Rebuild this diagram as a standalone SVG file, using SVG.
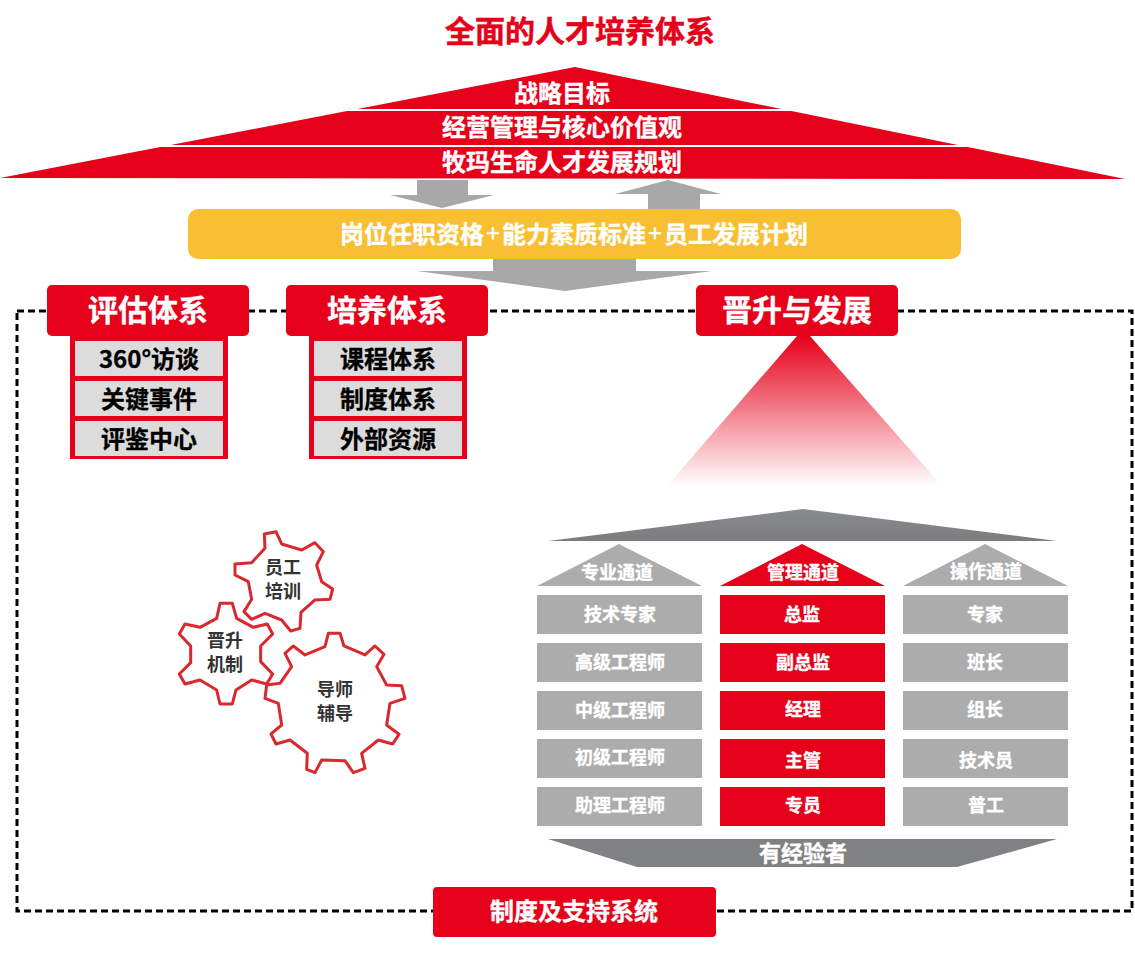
<svg xmlns="http://www.w3.org/2000/svg" width="1135" height="954" viewBox="0 0 1135 954">
<style>
text{font-family:"Noto Sans CJK SC","Microsoft YaHei","Liberation Sans",sans-serif;font-weight:700;text-anchor:middle;dominant-baseline:central}
.w{fill:#fff;stroke:#fff;stroke-width:.35}.k{fill:#000;stroke:#000;stroke-width:.3}.r{fill:#e60019}.g{fill:#acacac}.a{fill:#a7a8a7}
.t24{font-size:24px}.t30{font-size:30px}.t18{font-size:18px}
.gear{fill:#fff;stroke:#d9282e;stroke-width:9;stroke-linejoin:round}
.sub{fill:#dcdcdc}
.gt{font-size:18px;fill:#333}
.plus{font-family:"Liberation Sans",sans-serif;font-weight:400}
</style>
<defs>
<linearGradient id="fade" x1="0" y1="0" x2="0" y2="1"><stop offset="0" stop-color="#e60019"/><stop offset="1" stop-color="#e60019" stop-opacity="0"/></linearGradient>
<linearGradient id="roof" x1="0" y1="0" x2="0" y2="1"><stop offset="0" stop-color="#8a8b8c"/><stop offset="1" stop-color="#7b7c7e"/></linearGradient>
</defs>
<text id="title" x="580" y="29" style="font-size:30px;fill:#e60019;stroke:#e60019;stroke-width:.5">全面的人才培养体系</text>
<g id="connectors">
<path class="a" d="M417 180H468V195H494L442 208L390 195H417Z"/>
<path class="a" d="M648 209V194H615L668 180L721 194H700V209Z"/>
<path class="a" d="M493 259H636V271H712L565 291L417 271H493Z"/>
<rect x="17" y="311" width="1115" height="600" fill="none" stroke="#000" stroke-width="3" stroke-dasharray="7 4"/>
</g>
<g id="pyramid">
<polygon class="r" points="575,67 1125,179 0,178"/>
<path d="M340 110H795M155 146H975" stroke="#fff" stroke-width="2" fill="none"/>
<text class="w t24" x="562" y="91">战略目标</text>
<text class="w t24" x="562" y="125">经营管理与核心价值观</text>
<text class="w t24" x="562" y="160">牧玛生命人才发展规划</text>
</g>
<g id="standard">
<rect x="188" y="209" width="773" height="50" rx="10" fill="#f8bf33"/>
<text class="w t24" x="574" y="232">岗位任职资格<tspan class="plus" dx="2">+</tspan><tspan dx="2">能力素质标准</tspan><tspan class="plus" dx="2">+</tspan><tspan dx="2">员工发展计划</tspan></text>
</g>
<g id="assess">
<rect class="r" x="70" y="330" width="158" height="129"/>
<rect class="sub" x="75" y="341" width="148" height="35"/>
<rect class="sub" x="75" y="381" width="148" height="35"/>
<rect class="sub" x="75" y="421" width="148" height="35"/>
<rect class="r" x="47" y="285" width="202" height="51" rx="5"/>
<text class="w t30" x="148" y="308">评估体系</text>
<text class="k t24" x="149" y="357">360°访谈</text>
<text class="k t24" x="149" y="397">关键事件</text>
<text class="k t24" x="149" y="437">评鉴中心</text>
</g>
<g id="train">
<rect class="r" x="309" y="330" width="158" height="129"/>
<rect class="sub" x="314" y="341" width="148" height="35"/>
<rect class="sub" x="314" y="381" width="148" height="35"/>
<rect class="sub" x="314" y="421" width="148" height="35"/>
<rect class="r" x="286" y="285" width="202" height="51" rx="5"/>
<text class="w t30" x="387" y="308">培养体系</text>
<text class="k t24" x="388" y="357">课程体系</text>
<text class="k t24" x="388" y="397">制度体系</text>
<text class="k t24" x="388" y="437">外部资源</text>
</g>
<g id="promotion">
<polygon points="797,336 810,336 942,486 667,486" fill="url(#fade)"/>
<rect class="r" x="696" y="285" width="202" height="51" rx="5"/>
<text class="w t30" x="797" y="308">晋升与发展</text>
</g>
<g id="gears">
<g id="gear-train" transform="translate(170 520) scale(.3333)">
<polygon class="gear" points="283,42 318,35 335,72 395,90 435,68 460,95 440,135 455,185 488,207 480,238 435,240 393,277 390,325 362,333 335,300 285,280 245,298 222,275 245,238 235,185 195,165 195,132 245,128 285,85"/>
</g>
<g id="gear-promo" transform="translate(170 520) scale(.3333)">
<polygon class="gear" points="150,250 187,250 200,295 250,322 292,312 308,342 272,378 272,425 308,462 290,492 245,480 198,510 187,552 150,552 140,510 90,480 45,492 28,462 62,428 62,378 28,342 45,312 90,322 140,295"/>
</g>
<g id="gear-mentor" transform="translate(170 520) scale(.3333)">
<polygon class="gear" points="475,340 510,340 522,378 585,405 615,378 642,403 620,440 650,495 695,497 705,535 660,550 650,615 687,643 668,672 625,660 575,700 585,745 550,758 525,722 455,720 435,758 410,748 412,700 360,660 318,672 303,642 335,615 325,550 285,535 290,495 330,490 365,440 345,400 370,378 405,405 465,380"/>
</g>
<text class="gt" x="283" y="566">员工</text>
<text class="gt" x="283" y="590">培训</text>
<text class="gt" x="225" y="639">晋升</text>
<text class="gt" x="225" y="663">机制</text>
<text class="gt" x="335" y="688">导师</text>
<text class="gt" x="335" y="712">辅导</text>
</g>
<g id="roof"><polygon points="548,541 803,509 1057,541" fill="url(#roof)"/></g>
<g id="channel-pro">
<polygon class="g" points="537,586 619,544 702,586"/>
<text class="w t18" x="617" y="571">专业通道</text>
<rect class="g" x="537" y="595" width="165" height="39"/><text class="w t18" x="620" y="613">技术专家</text>
<rect class="g" x="537" y="643" width="165" height="39"/><text class="w t18" x="620" y="661">高级工程师</text>
<rect class="g" x="537" y="691" width="165" height="39"/><text class="w t18" x="620" y="709">中级工程师</text>
<rect class="g" x="537" y="739" width="165" height="39"/><text class="w t18" x="620" y="756">初级工程师</text>
<rect class="g" x="537" y="787" width="165" height="39"/><text class="w t18" x="620" y="804">助理工程师</text>
</g>
<g id="channel-mgmt">
<polygon class="r" points="720,586 802,544 885,586"/>
<text class="w t18" x="803" y="571">管理通道</text>
<rect class="r" x="720" y="595" width="165" height="39"/><text class="w t18" x="802" y="613">总监</text>
<rect class="r" x="720" y="643" width="165" height="39"/><text class="w t18" x="803" y="661">副总监</text>
<rect class="r" x="720" y="691" width="165" height="39"/><text class="w t18" x="803" y="708">经理</text>
<rect class="r" x="720" y="739" width="165" height="39"/><text class="w t18" x="803" y="759">主管</text>
<rect class="r" x="720" y="787" width="165" height="39"/><text class="w t18" x="803" y="804">专员</text>
</g>
<g id="channel-op">
<polygon class="g" points="903,586 985,544 1068,586"/>
<text class="w t18" x="986" y="570">操作通道</text>
<rect class="g" x="903" y="595" width="165" height="39"/><text class="w t18" x="985" y="613">专家</text>
<rect class="g" x="903" y="643" width="165" height="39"/><text class="w t18" x="985" y="661">班长</text>
<rect class="g" x="903" y="691" width="165" height="39"/><text class="w t18" x="985" y="708">组长</text>
<rect class="g" x="903" y="739" width="165" height="39"/><text class="w t18" x="986" y="759">技术员</text>
<rect class="g" x="903" y="787" width="165" height="39"/><text class="w t18" x="986" y="804">普工</text>
</g>
<g id="base">
<polygon points="548,839 1057,839 957,867 637,867" fill="#808183"/>
<text class="w" x="803" y="851" style="font-size:22px">有经验者</text>
</g>
<g id="support">
<rect class="r" x="433" y="887" width="283" height="50" rx="4"/>
<text class="w t24" x="574" y="909">制度及支持系统</text>
</g>
</svg>
